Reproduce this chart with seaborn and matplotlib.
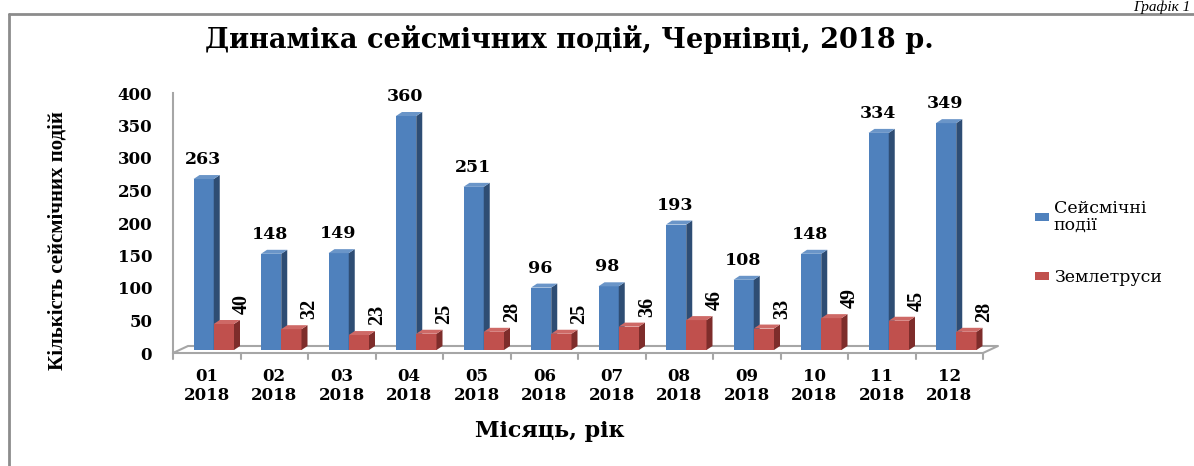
import matplotlib
matplotlib.use("Agg")
import matplotlib.pyplot as plt
import matplotlib.transforms as mtransforms
from matplotlib.patches import Polygon, Patch
from matplotlib.lines import Line2D
import pandas as pd
import seaborn as sns

# ---- data ----
months = ["01\n2018", "02\n2018", "03\n2018", "04\n2018", "05\n2018", "06\n2018",
          "07\n2018", "08\n2018", "09\n2018", "10\n2018", "11\n2018", "12\n2018"]
seismic_events = [263, 148, 149, 360, 251, 96, 98, 193, 108, 148, 334, 349]
earthquakes = [40, 32, 23, 25, 28, 25, 36, 46, 33, 49, 45, 28]
series_names = ["Сейсмічні\nподії", "Землетруси"]
y_ticks = [0, 50, 100, 150, 200, 250, 300, 350, 400]

title = "Динаміка сейсмічних подій, Чернівці, 2018 р."
y_label = "Кількість сейсмічних подій"
x_label = "Місяць, рік"
corner_note = "Графік 1"

front_colors = ["#4F81BD", "#C0504D"]
side_colors = ["#2E4D74", "#7E2D2B"]
top_colors = ["#6A95C8", "#CE6966"]

sns.set_theme(style="white")
plt.rcParams["font.family"] = ["DejaVu Serif", "DejaVu Sans"]
plt.rcParams["text.color"] = "black"
plt.rcParams["axes.labelcolor"] = "black"
plt.rcParams["xtick.labelcolor"] = "black"
plt.rcParams["ytick.labelcolor"] = "black"

W, H = 1194, 466
fig = plt.figure(figsize=(W / 100, H / 100), dpi=100)
ax = fig.add_axes([173 / W, 113 / H, 810 / W, 260 / H])

df = pd.DataFrame({
    "month": months * 2,
    "value": seismic_events + earthquakes,
    "series": [series_names[0]] * len(months) + [series_names[1]] * len(months),
})
sns.barplot(data=df, x="month", y="value", hue="series", palette=front_colors,
            width=0.6, saturation=1, linewidth=0, edgecolor="none", ax=ax,
            legend=False, errorbar=None, zorder=3)

ax.set_xlim(-0.5, 11.5)
ax.set_ylim(0, 400)
ax.set_yticks(y_ticks)
for s in ["top", "right", "bottom"]:
    ax.spines[s].set_visible(False)
ax.spines["left"].set_color("#A6A6A6")
ax.spines["left"].set_linewidth(1.5)
ax.tick_params(axis="y", length=6, width=1.5, color="#A6A6A6", pad=9,
               labelsize=12, labelcolor="black")
ax.tick_params(axis="x", length=0, pad=11, labelsize=12, labelcolor="black")
for lab in ax.get_yticklabels() + ax.get_xticklabels():
    lab.set_fontweight("bold")
    lab.set_linespacing(1.1)
ax.set_xlabel("")
ax.set_ylabel("")
ax.grid(False)

# pixel scale
fig.canvas.draw()
p0 = ax.transData.transform((0, 0))
p1 = ax.transData.transform((1, 1))
ux, uy = p1[0] - p0[0], p1[1] - p0[1]

# floor (perspective) and category tick marks
fdx, fdy = 15 / ux, 7 / uy
floor_x = [-0.5, 11.5, 11.5 + fdx, -0.5 + fdx, -0.5]
floor_y = [0, 0, fdy, fdy, 0]
ax.plot(floor_x, floor_y, color="#A6A6A6", lw=1.5, clip_on=False, zorder=1)
for b in range(len(months) + 1):
    ax.plot([b - 0.5, b - 0.5], [0, -6 / uy], color="#A6A6A6", lw=1.5,
            clip_on=False, zorder=1)

# shift bars into the middle of floor depth and add 3D faces
shift = mtransforms.ScaledTranslation(7 / 100, 3 / 100, fig.dpi_scale_trans)
bdx, bdy = 6 / ux, 4 / uy
bars = [p for p in ax.patches]
n = len(months)
for idx, p in enumerate(bars):
    s = 0 if idx < n else 1
    p.set_transform(ax.transData + shift)
    p.set_clip_on(False)
    p.set_zorder(3 + s)
    x0 = p.get_x(); w = p.get_width(); h = p.get_height(); x1 = x0 + w
    side = Polygon([(x1, 0), (x1, h), (x1 + bdx, h + bdy), (x1 + bdx, bdy)],
                   closed=True, facecolor=side_colors[s], edgecolor="none",
                   transform=ax.transData + shift, zorder=3 + s, clip_on=False)
    top = Polygon([(x0, h), (x1, h), (x1 + bdx, h + bdy), (x0 + bdx, h + bdy)],
                  closed=True, facecolor=top_colors[s], edgecolor="none",
                  transform=ax.transData + shift, zorder=3 + s, clip_on=False)
    ax.add_patch(side)
    ax.add_patch(top)
    cx = x0 + w / 2
    if s == 0:
        ax.annotate(f"{int(round(h))}", (cx, h), xytext=(6, 14),
                    textcoords="offset pixels", ha="center", va="bottom",
                    fontsize=12.5, fontweight="bold", color="black",
                    annotation_clip=False)
    else:
        ax.annotate(f"{int(round(h))}", (cx, h), xytext=(25, 13),
                    textcoords="offset pixels", ha="center", va="bottom",
                    rotation=90, fontsize=14.5, fontweight="bold",
                    family="Liberation Serif", color="black",
                    annotation_clip=False)

# legend
handles = [Patch(facecolor=front_colors[0], edgecolor="none"),
           Patch(facecolor=front_colors[1], edgecolor="none")]
leg = fig.legend(handles, series_names, loc="upper left",
                 bbox_to_anchor=(1019 / W, 1 - 184 / H), frameon=False,
                 fontsize=12.5, handlelength=0.8, handleheight=0.35,
                 handletextpad=0.3, labelspacing=2.0)
for t in leg.get_texts():
    t.set_linespacing(1.05)

# texts
fig.text(569 / W, 1 - 39 / H, title, ha="center", va="center",
         fontsize=19.5, fontweight="bold")
fig.text(58 / W, 1 - 241 / H, y_label, ha="center", va="center", rotation=90,
         fontsize=15, fontweight="bold", family="Liberation Serif")
fig.text(550 / W, 1 - 431 / H, x_label, ha="center", va="center",
         fontsize=16, fontweight="bold")
fig.text(1190 / W, 1 - 11 / H, corner_note, ha="right", va="baseline",
         fontsize=11, style="italic", family="Liberation Serif")

# outer frame
fig.add_artist(Line2D([9 / W, 9 / W], [0, 1 - 14 / H], transform=fig.transFigure,
                      color="#8C8C8C", lw=2))
fig.add_artist(Line2D([9 / W, 1], [1 - 14 / H, 1 - 14 / H], transform=fig.transFigure,
                      color="#8C8C8C", lw=2))

fig.savefig("out.png", dpi=100)
